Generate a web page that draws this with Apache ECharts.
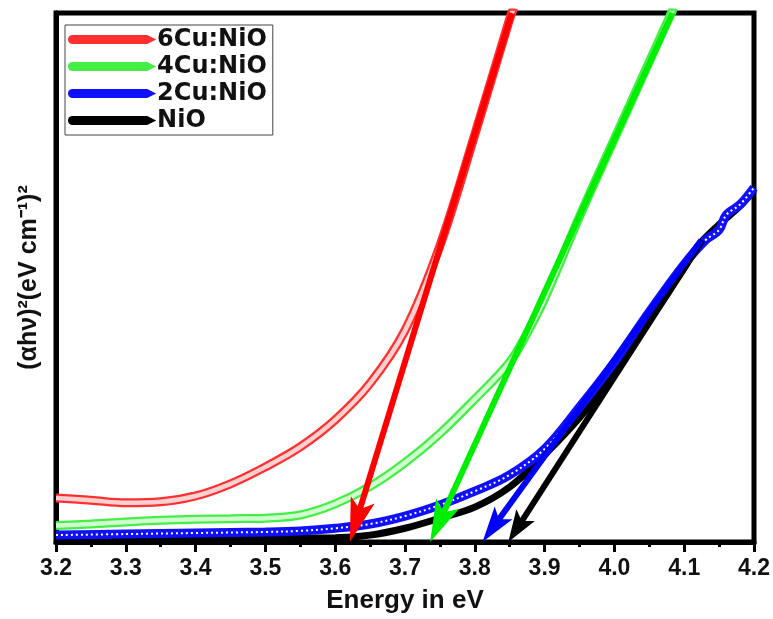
<!DOCTYPE html>
<html>
<head>
<meta charset="utf-8">
<script src="https://cdn.jsdelivr.net/npm/echarts@6/dist/echarts.min.js"></script>
<style>html,body{margin:0;padding:0;background:#fff}#c{width:773px;height:619px}</style>
</head>
<body>
<div id="c"></div>
<script>
// ---- data ----
const seriesNames = ['6Cu:NiO', '4Cu:NiO', '2Cu:NiO', 'NiO'];
const xTicks = ['3.2','3.3','3.4','3.5','3.6','3.7','3.8','3.9','4.0','4.1','4.2'];

const energy6Cu = [3.20,3.25,3.30,3.35,3.40,3.45,3.50,3.55,3.60,3.65,3.70,3.75,3.80,3.85,3.856];
const value6Cu  = [8.3, 7.9, 7.4, 7.6, 8.7, 11.0,14.2,18.0,23.1,30.0,40.0,56.0,77.0,98.9,101];

const energy4Cu = [3.20,3.25,3.30,3.35,3.40,3.45,3.50,3.55,3.60,3.65,3.70,3.75,3.80,3.85,3.875,3.90,3.95,4.00,4.05,4.085];
const value4Cu  = [3.1, 3.4, 3.8, 4.1, 4.3, 4.4, 4.5, 5.1, 7.2, 10.5,15.0,20.5,27.0,34.0,39.5, 46.0,61.5,76.2,90.8,101];

const energy2Cu = [3.20,3.30,3.40,3.50,3.55,3.60,3.65,3.70,3.75,3.80,3.85,3.90,3.95,4.00,4.05,4.10,4.13,4.15,4.16,4.18,4.20];
const value2Cu  = [1.3, 1.5, 1.7, 1.9, 2.1, 2.6, 3.4, 4.9, 7.0, 9.6, 12.7,17.6,25.5,34.0,43.5,52.5,57.0,59.0,61.8,63.8,67.0];

const energyNiO = [3.20,3.40,3.60,3.65,3.70,3.75,3.80,3.85,3.90,3.95,4.00,4.05,4.10,4.12,4.15,4.18,4.20];
const valueNiO  = [0.7, 0.7, 0.8, 1.3, 2.6, 4.5, 6.6, 10.4,16.5,23.5,31.8,41.8,51.8,56.0,60.0,63.5,66.5];

// extrapolation arrows: [tailEnergy, tailValue, tipEnergy, tipValue]
const arrow6Cu = [3.853, 100, 3.621, 0];
const arrow4Cu = [4.083, 100, 3.736, 0];
const arrow2Cu = [4.124, 57, 3.811, 0];
const arrowNiO = [4.126, 57, 3.848, 0];

// ---- styles ----
const edgeColors  = ['#ff3030', '#44ee44', '#1010ff', '#000000'];
const innerColors = ['#ffd0d0', '#d0ffd0', '#ffffff', '#000000'];
const arrowColors = ['#ff0000', '#00ee00', '#0000ff', '#000000'];
const headLen = [44, 42, 36, 32];
const headWid = [25, 25, 22, 22];

const energies = [energy6Cu, energy4Cu, energy2Cu, energyNiO];
const values = [value6Cu, value4Cu, value2Cu, valueNiO];
const arrows = [arrow6Cu, arrow4Cu, arrow2Cu, arrowNiO];

function pairs(xs, ys) { return xs.map((x, i) => [x, ys[i]]); }

const series = [];
[3, 2, 1, 0].forEach(i => {
  const d = pairs(energies[i], values[i]);
  series.push({
    name: seriesNames[i], type: 'line', data: d, smooth: 0.35, showSymbol: false,
    clip: true, z: 2,
    itemStyle: { color: edgeColors[i] },
    lineStyle: { color: edgeColors[i], width: i === 3 ? 7 : 9 }
  });
  if (i !== 3) {
    series.push({
      name: seriesNames[i] + ' inner', type: 'line', data: d, smooth: 0.35, showSymbol: false,
      clip: true, z: 2, silent: true,
      lineStyle: i === 2 ? { color: innerColors[i], width: 2, type: [2, 3] }
                         : { color: innerColors[i], width: 4.5 }
    });
  }
});

function arrowRenderer(idx) {
  return function (params, api) {
    const p0 = api.coord([api.value(0), api.value(1)]);
    const p1 = api.coord([api.value(2), api.value(3)]);
    const dx = p1[0] - p0[0], dy = p1[1] - p0[1];
    const len = Math.sqrt(dx * dx + dy * dy);
    const ux = dx / len, uy = dy / len, nx = -uy, ny = ux;
    const L = headLen[idx], W = headWid[idx] / 2;
    const bx = p1[0] - ux * L, by = p1[1] - uy * L;
    const kx = p1[0] - ux * L * 0.78, ky = p1[1] - uy * L * 0.78;
    return {
      type: 'group',
      children: [
        { type: 'line', shape: { x1: p0[0], y1: p0[1], x2: kx, y2: ky },
          style: { stroke: arrowColors[idx], lineWidth: 6 } },
        { type: 'polygon', shape: { points: [[p1[0], p1[1]], [bx + nx * W, by + ny * W], [kx, ky], [bx - nx * W, by - ny * W]] },
          style: { fill: arrowColors[idx] } }
      ]
    };
  };
}
[3, 2, 1, 0].forEach(i => {
  series.push({
    name: seriesNames[i] + ' arrow', type: 'custom', z: 5, silent: true, clip: false,
    renderItem: arrowRenderer(i), data: [arrows[i]]
  });
});

const chart = echarts.init(document.getElementById('c'), null, { renderer: 'canvas' });
chart.setOption({
  animation: false,
  backgroundColor: '#ffffff',
  grid: { left: 56, right: 19, top: 13, bottom: 77, show: true, borderColor: '#000', borderWidth: 5, backgroundColor: 'transparent' },
  legend: {
    data: seriesNames,
    orient: 'vertical', left: 65, top: 25,
    itemWidth: 92, itemHeight: 9, itemGap: 2,
    icon: 'path://M5,0 L88,0 L98,5 L88,10 L5,10 A5,5 0 0 1 5,0 Z',
    borderColor: '#444', borderWidth: 1, padding: [2, 6, 2, 3],
    textStyle: { fontFamily: 'DejaVu Sans', fontWeight: 'bold', fontSize: 24, lineHeight: 25, color: '#111', padding: [0, 0, 0, -6] },
    selectedMode: false
  },
  xAxis: {
    type: 'value', min: 3.2, max: 4.2, interval: 0.1,
    name: 'Energy in eV', nameLocation: 'middle', nameGap: 46,
    nameTextStyle: { fontFamily: 'Liberation Sans', fontWeight: 'bold', fontSize: 26, color: '#111' },
    axisLine: { show: true, lineStyle: { color: '#000', width: 5 } },
    axisTick: { show: true, length: 10, lineStyle: { color: '#000', width: 3 } },
    minorTick: { show: true, splitNumber: 2, length: 5, lineStyle: { color: '#000', width: 3 } },
    splitLine: { show: false },
    axisLabel: {
      margin: 15, fontFamily: 'Liberation Sans', fontWeight: 'bold', fontSize: 23, color: '#111',
      formatter: v => { const s = v.toFixed(1); return xTicks.indexOf(s) >= 0 ? s : ''; }
    }
  },
  yAxis: {
    type: 'value', min: 0, max: 100,
    name: '(\u03b1h\u03bd)\u00b2(eV cm\u207b\u00b9)\u00b2', nameLocation: 'middle', nameGap: 14, nameRotate: 90,
    nameTextStyle: { fontFamily: 'Liberation Sans', fontWeight: 'bold', fontSize: 25, color: '#111' },
    axisLine: { show: true, lineStyle: { color: '#000', width: 5 } },
    axisTick: { show: false }, axisLabel: { show: false }, splitLine: { show: false }
  },
  series: series
});
</script>
</body>
</html>
